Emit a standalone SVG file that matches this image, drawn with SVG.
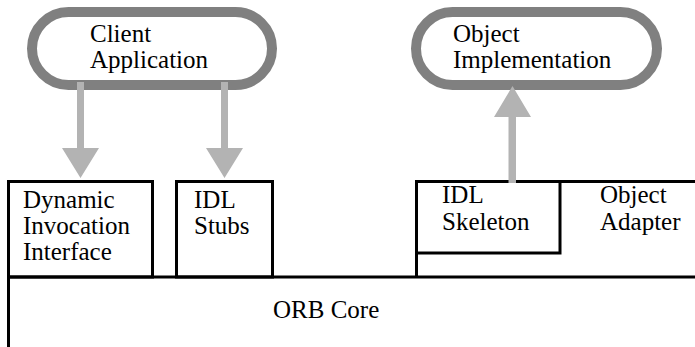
<svg xmlns="http://www.w3.org/2000/svg" width="695" height="347" viewBox="0 0 695 347">
<style>
.pill{fill:#fff;stroke:#808080;stroke-width:10}
.box{fill:none;stroke:#000;stroke-width:3}
.t{font-family:"Liberation Serif","Times New Roman",serif;font-size:25px;fill:#000}
.arr{fill:#b3b3b3}
</style>
<rect width="695" height="347" fill="#fff"/>
<g id="client">
<rect class="pill" x="32" y="12" width="240" height="73" rx="36.5"/>
<text class="t" x="90" y="42">Client</text>
<text class="t" x="90" y="68">Application</text>
</g>
<g id="impl">
<rect class="pill" x="416" y="12" width="241" height="73" rx="36.5"/>
<text class="t" x="453" y="42">Object</text>
<text class="t" x="453" y="68">Implementation</text>
</g>
<g id="orb">
<path class="box" d="M8.5,347 V277 H416.5 V181.5 H695 M416.5,277 H695"/>
<text class="t" x="273" y="318">ORB Core</text>
</g>
<g id="dii">
<rect class="box" x="8.5" y="181.5" width="144" height="95.5"/>
<text class="t" x="23" y="208">Dynamic</text>
<text class="t" x="23" y="234">Invocation</text>
<text class="t" x="23" y="260">Interface</text>
</g>
<g id="stubs">
<rect class="box" x="176.5" y="181.5" width="96" height="95.5"/>
<text class="t" x="194" y="208">IDL</text>
<text class="t" x="194" y="234">Stubs</text>
</g>
<g id="skeleton">
<rect class="box" x="416.5" y="181.5" width="143.5" height="71.5"/>
<text class="t" x="442" y="203">IDL</text>
<text class="t" x="442" y="230">Skeleton</text>
</g>
<g id="adapter">
<text class="t" x="600" y="203">Object</text>
<text class="t" x="600" y="230">Adapter</text>
</g>
<g id="connectors">
<path class="arr" d="M77,82 H84 V148 H99 L80.5,178 L62,148 H77 Z"/>
<path class="arr" d="M221,82 H228 V148 H243 L224.5,178 L206,148 H221 Z"/>
<path class="arr" d="M508.5,183 V117 H494 L512.5,86 L531,117 H516 V183 Z"/>
</g>
</svg>
